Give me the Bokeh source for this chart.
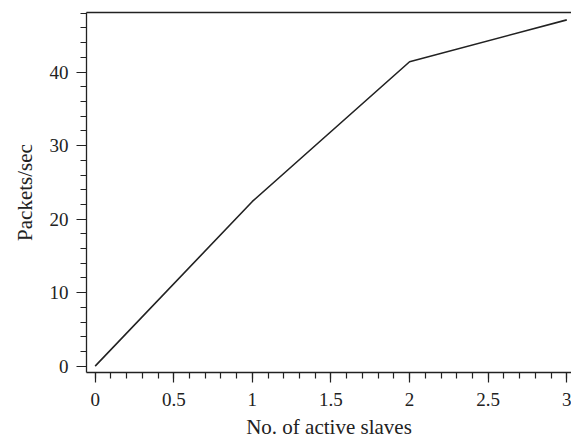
from bokeh.plotting import figure
from bokeh.models import LinearAxis, FixedTicker, Range1d
from bokeh.embed import file_html
from bokeh.resources import INLINE

slaves = [0, 1, 2, 3]
packets = [0, 22.4, 41.4, 47.1]
x_major = [0, 0.5, 1, 1.5, 2, 2.5, 3]
x_minor = [round(i * 0.1, 1) for i in range(0, 31)]
y_major = [0, 10, 20, 30, 40]
y_minor = list(range(0, 49, 2))

FONT = "Liberation Serif"

p = figure(width=571, height=441, output_backend="svg", toolbar_location=None,
           x_range=Range1d(-0.055, 3.03), y_range=Range1d(-0.86, 48.1),
           min_border_left=86, min_border_right=0, min_border_top=12, min_border_bottom=69)
p.outline_line_color = None
p.grid.visible = False
p.background_fill_color = "white"
p.border_fill_color = "white"

p.line(slaves, packets, line_color="#222222", line_width=1.6)

for ax, maj, mnr in ((p.xaxis[0], x_major, x_minor), (p.yaxis[0], y_major, y_minor)):
    ax.ticker = FixedTicker(ticks=maj, minor_ticks=mnr)
    ax.axis_line_color = "#222222"
    ax.axis_line_width = 1.3
    ax.major_tick_line_color = "#222222"
    ax.minor_tick_line_color = "#222222"
    ax.major_tick_line_width = 1.2
    ax.minor_tick_line_width = 1.2
    ax.major_tick_out = 10
    ax.major_tick_in = 0
    ax.minor_tick_out = 6
    ax.minor_tick_in = 0
    ax.major_label_text_font = FONT
    ax.major_label_text_font_size = "19px"
    ax.major_label_text_color = "#222222"
    ax.axis_label_text_font = FONT
    ax.axis_label_text_font_size = "21px"
    ax.axis_label_text_font_style = "normal"
    ax.axis_label_text_color = "#222222"

p.xaxis[0].axis_label = "No. of active slaves"
p.yaxis[0].axis_label = "Packets/sec"
p.xaxis[0].major_label_standoff = 10
p.yaxis[0].major_label_standoff = 8
p.xaxis[0].axis_label_standoff = 6
p.yaxis[0].axis_label_standoff = 10
p.yaxis[0].major_label_orientation = "horizontal"

top = LinearAxis(ticker=FixedTicker(ticks=[]), major_label_text_font_size="0px",
                 major_tick_line_color=None, minor_tick_line_color=None,
                 axis_line_color="#222222", axis_line_width=1.3)
p.add_layout(top, "above")

open("out.html", "w").write(file_html(p, INLINE))
